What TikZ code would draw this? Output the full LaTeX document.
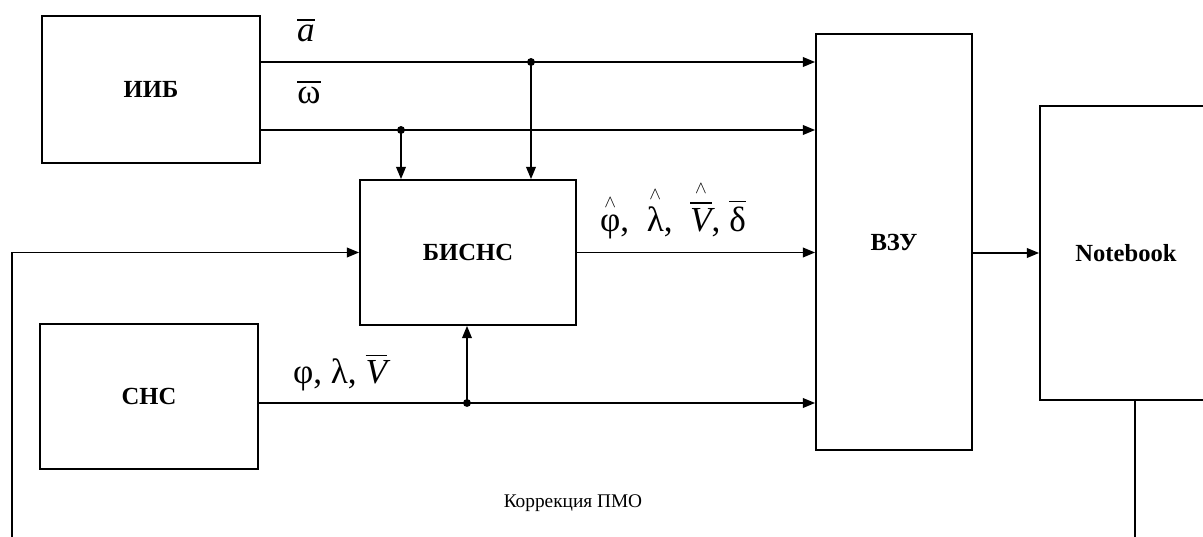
\documentclass[tikz,border=0pt]{standalone}
\usepackage{amsmath}
\usepackage{fontspec}
\setmainfont{Liberation Serif}
\usepackage{tikz}
\usetikzlibrary{positioning, calc, arrows.meta}
\newcommand{\esthat}[1]{\overset{\scriptscriptstyle\wedge}{#1}}

\begin{document}
\begin{tikzpicture}[
    blockbox/.style={draw, line width=1pt, font=\fontsize{14}{16}\selectfont\bfseries},
    arr/.style={line width=1pt, -{Triangle[length=7pt,width=5.5pt]}},
    wire/.style={line width=1pt},
    jdot/.style={circle, fill, inner sep=0pt, minimum size=4.5pt},
    siglabel/.style={font=\fontsize{20}{24}\selectfont}
  ]
\useasboundingbox (0,0) rectangle (24.06,10.74);
\clip (0,0) rectangle (24.06,10.74);

\node[blockbox, minimum width=4.36cm, minimum height=2.94cm] (iib) at (3.02,8.95) {ИИБ};
\node[blockbox, minimum width=4.36cm, minimum height=2.90cm] (snc) at (2.98,2.81) {СНС};
\node[blockbox, minimum width=4.32cm, minimum height=2.90cm] (bisns) at (9.36,5.69) {БИСНС};
\node[blockbox, minimum width=3.12cm, minimum height=8.32cm] (vzu) at (17.88,5.90) {ВЗУ};
\node[blockbox, minimum width=3.44cm, minimum height=5.88cm] (nb) at (22.52,5.68) {Notebook};

\coordinate (ya) at (0,9.50);
\coordinate (yw) at (0,8.14);
\coordinate (yv) at (0,2.68);
\coordinate (fb) at (0.24,0);
\coordinate (nbout) at (22.70,0);

\draw[arr] (iib.east |- ya) -- (vzu.west |- ya);
\draw[arr] (iib.east |- yw) -- (vzu.west |- yw);
\draw[arr] (snc.east |- yv) -- (vzu.west |- yv);
\draw[arr] (bisns.east) -- (bisns.east -| vzu.west);
\draw[arr] (fb) |- (bisns.west);
\draw[arr] (vzu.east |- nb.west) -- (nb.west);
\draw[wire] (nbout |- nb.south) -- (nbout);

\node[jdot] (da) at (10.62,9.50) {};
\node[jdot] (dw) at (8.02,8.14) {};
\node[jdot] (dv) at (9.34,2.68) {};
\draw[arr] (da.center) -- (da.center |- bisns.north);
\draw[arr] (dw.center) -- (dw.center |- bisns.north);
\draw[arr] (dv.center) -- (dv.center |- bisns.south);

\node[siglabel] (la) at (6.12,10.14) {$\overline{\textit{a}}$};
\node[siglabel] (lw) at (6.18,8.90) {$\overline{\text{ω}}$};
\node[siglabel] (lv) at (6.80,3.30) {φ,\ λ,\ $\overline{\textit{V}}$};
\node[siglabel] (lest) at (13.46,6.55) {$\esthat{\text{φ}}$,\ \ $\esthat{\text{λ}}$,\ \ $\esthat{\overline{\textit{V}}}$,\ $\overline{\text{δ}}$};
\node[font=\fontsize{11}{13}\selectfont] (corr) at (11.46,0.68) {Коррекция ПМО};
\end{tikzpicture}
\end{document}
